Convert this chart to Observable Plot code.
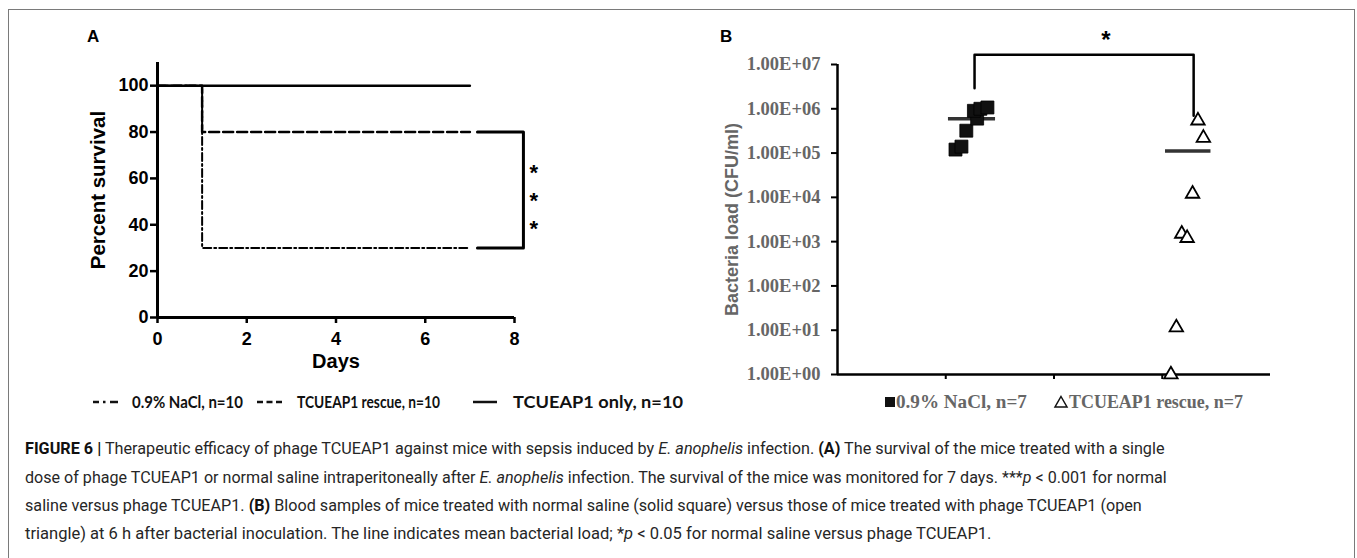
<!DOCTYPE html>
<html>
<head>
<meta charset="utf-8">
<script src="https://cdn.jsdelivr.net/npm/d3@7"></script>
<script src="https://cdn.jsdelivr.net/npm/@observablehq/plot@0.6"></script>
<style>
  body { margin: 0; background: #fff; }
  #root { position: relative; width: 1357px; height: 558px; overflow: hidden; background: #fff; }
  .frame { position: absolute; left: 8px; top: 9px; width: 1347px; height: 620px; border: 1.5px solid #7a7a7a; box-sizing: border-box; }
  #panelA { position: absolute; left: 0; top: 0; }
  #panelB { position: absolute; left: 600px; top: 0; }
  #overlay { position: absolute; left: 0; top: 0; pointer-events: none; }
</style>
</head>
<body>
<div id="root">
  <div class="frame"></div>
  <div id="panelA"></div>
  <div id="panelB"></div>
  <svg id="overlay" width="1357" height="558"></svg>
</div>
<script>
// ---------- Panel A data (Kaplan–Meier survival) ----------
const survivalSeries = ["0.9% NaCl, n=10", "TCUEAP1 rescue, n=10", "TCUEAP1 only, n=10"];
const survivalDays = [0, 1, 7];
const naclSurvival = [100, 30, 30];
const rescueSurvival = [100, 80, 80];
const onlyDays = [0, 7];
const onlySurvival = [100, 100];
const xTicksA = [0, 2, 4, 6, 8];
const yTicksA = [0, 20, 40, 60, 80, 100];
const bracketAX = [7.17, 8.2, 8.2, 7.17];
const bracketAY = [80, 80, 30, 30];
const starsAY = [65, 53, 41];
const starsAX = 8.43;

// ---------- Panel B data (bacterial load) ----------
const groupsB = ["0.9% NaCl, n=7", "TCUEAP1 rescue, n=7"];
const naclX = [1.09, 1.145, 1.19, 1.29, 1.26, 1.32, 1.385];
const naclLoad = [1.2e5, 1.4e5, 3.2e5, 6.0e5, 9.0e5, 1.0e6, 1.07e6];
const rescueX = [3.33, 3.38, 3.28, 3.18, 3.23, 3.13, 3.08];
const rescueLoad = [5.4e5, 2.2e5, 1.2e4, 1.5e3, 1.2e3, 11.5, 1];
const yTicksB = [1, 10, 100, 1e3, 1e4, 1e5, 1e6, 1e7];
const yTickLabelsB = ["1.00E+00", "1.00E+01", "1.00E+02", "1.00E+03", "1.00E+04", "1.00E+05", "1.00E+06", "1.00E+07"];
const xTicksB = [1, 2, 3];
const meanSpanNacl = [1.025, 1.46];
const meanSpanRescue = [3.03, 3.45];
const bracketBX = [1.266, 1.266, 3.29, 3.29];
const bracketBY = [2.9e6, 1.66e7, 1.66e7, 7e5];
const starBX = 2.48;
const starBY = 4.8e7;

// ---------- Panel A ----------
const rows = (xs, ys) => xs.map((d, i) => ({x: d, y: ys[i]}));
const plotStyle = {background: "transparent", overflow: "visible", maxWidth: "none", color: "black",
  fontFamily: "'Liberation Sans', Arial, sans-serif", fontSize: "18px", fontWeight: "bold"};

const plotA = Plot.plot({
  width: 680, height: 420,
  marginLeft: 157, marginRight: 166, marginTop: 62, marginBottom: 103,
  x: {domain: [0, 8]},
  y: {domain: [0, 110]},
  style: plotStyle,
  marks: [
    Plot.axisY(yTicksA, {tickSize: 7, tickPadding: 2, strokeWidth: 2.5, fontSize: 18, fontWeight: "bold", label: null}),
    Plot.axisX(xTicksA, {tickSize: 6, tickPadding: 9, strokeWidth: 2.5, fontSize: 18, fontWeight: "bold", label: null}),
    Plot.ruleX([0], {y1: 0, y2: 110, strokeWidth: 3}),
    Plot.ruleY([0], {x1: 0, x2: 8, strokeWidth: 3}),
    Plot.text(["Percent survival"], {text: d => d, frameAnchor: "left", textAnchor: "middle", dx: -59, rotate: -90, fontSize: 20.5, fontWeight: "bold"}),
    Plot.text(["Days"], {text: d => d, frameAnchor: "bottom", dy: 50, fontSize: 20, fontWeight: "bold"}),
    Plot.line(rows(survivalDays, rescueSurvival), {x: "x", y: "y", curve: "step-after", strokeWidth: 2.5, strokeDasharray: "10,4"}),
    Plot.line(rows(survivalDays, naclSurvival), {x: "x", y: "y", curve: "step-after", strokeWidth: 2, strokeDasharray: "8,3,2,3"}),
    Plot.line(rows(onlyDays, onlySurvival), {x: "x", y: "y", strokeWidth: 2.5}),
    Plot.line(rows(bracketAX, bracketAY), {x: "x", y: "y", strokeWidth: 3}),
    Plot.text(starsAY, {x: () => starsAX, y: d => d, text: () => "*", fontSize: 22, fontWeight: "bold", dy: 6})
  ]
});
document.getElementById("panelA").appendChild(plotA);

// ---------- Panel B ----------
const naclRows = rows(naclX, naclLoad);
const rescueRows = rows(rescueX, rescueLoad);
const naclMean = d3.mean(naclLoad);
const rescueMean = d3.mean(rescueLoad);

const plotB = Plot.plot({
  width: 720, height: 420,
  marginLeft: 237, marginRight: 50, marginTop: 64, marginBottom: 46,
  x: {domain: [0, 4]},
  y: {type: "log", domain: [1, 1e7]},
  style: plotStyle,
  marks: [
    Plot.axisY(yTicksB, {tickFormat: (d) => yTickLabelsB[yTicksB.indexOf(d)], tickSize: 6, tickPadding: 11, strokeWidth: 2,
      fontFamily: "'Liberation Serif', 'Times New Roman', serif", fontSize: 18.5, fontWeight: "bold", fill: "#666", stroke: "black", label: null}),
    Plot.axisX(xTicksB, {tickFormat: () => "", tickSize: 5, strokeWidth: 2, label: null}),
    Plot.ruleX([0], {y1: 1, y2: 1e7, strokeWidth: 2.5}),
    Plot.ruleY([1], {x1: 0, x2: 4, strokeWidth: 2.5}),
    Plot.text(["Bacteria load (CFU/ml)"], {text: d => d, frameAnchor: "left", textAnchor: "middle", dx: -105, rotate: -90, fontSize: 18, fontWeight: "bold", fill: "#666"}),
    Plot.ruleY([naclMean], {x1: meanSpanNacl[0], x2: meanSpanNacl[1], strokeWidth: 3.5, stroke: "#333"}),
    Plot.ruleY([rescueMean], {x1: meanSpanRescue[0], x2: meanSpanRescue[1], strokeWidth: 3.5, stroke: "#333"}),
    Plot.dot(naclRows, {x: "x", y: "y", symbol: "square", r: 7.3, fill: "#111", stroke: "#000", strokeWidth: 0.8}),
    Plot.dot(rescueRows, {x: "x", y: "y", symbol: "triangle", r: 5, fill: "white", stroke: "black", strokeWidth: 1.8}),
    Plot.line(rows(bracketBX, bracketBY), {x: "x", y: "y", strokeWidth: 2.5}),
    Plot.text([starBY], {x: () => starBX, y: d => d, text: () => "*", fontSize: 24, fontWeight: "bold", dy: 6})
  ]
});
document.getElementById("panelB").appendChild(plotB);

// ---------- Overlay: panel letters, legends, caption ----------
const ov = d3.select("#overlay");

// Fit a text element to a target width by scaling it horizontally (keeps tspans together).
function fitText(t, x, y, w) {
  t.attr("x", 0).attr("y", 0);
  const natural = t.node().getComputedTextLength();
  const sx = natural > 0 ? w / natural : 1;
  t.attr("transform", `translate(${x},${y}) scale(${sx},1)`);
}

ov.append("text").attr("x", 87).attr("y", 42).attr("font-family", "'Liberation Sans', Arial, sans-serif")
  .attr("font-weight", "bold").attr("font-size", 17).text("A");
ov.append("text").attr("x", 720).attr("y", 42).attr("font-family", "'Liberation Sans', Arial, sans-serif")
  .attr("font-weight", "bold").attr("font-size", 17).text("B");

// Legend A
const legA = [
  {label: survivalSeries[0], x1: 93, x2: 118, tx: 132, tw: 111, fs: 16.5, dash: "6,4,2.5,4.5,8"},
  {label: survivalSeries[1], x1: 257, x2: 282, tx: 297, tw: 143, fs: 16.5, dash: "6,3.5"},
  {label: survivalSeries[2], x1: 473, x2: 497, tx: 513, tw: 170, fs: 16.5, dash: null}
];
legA.forEach(d => {
  ov.append("line").attr("x1", d.x1).attr("x2", d.x2).attr("y1", 402).attr("y2", 402)
    .attr("stroke", "#111").attr("stroke-width", 2.5).attr("stroke-dasharray", d.dash);
  const t = ov.append("text").attr("font-family", "Lato, 'Open Sans', sans-serif")
    .attr("font-weight", "bold").attr("font-size", d.fs).attr("fill", "#111").text(d.label);
  fitText(t, d.tx, 402 + d.fs * 0.36, d.tw);
});

// Legend B
ov.append("rect").attr("x", 885).attr("y", 397).attr("width", 10).attr("height", 10).attr("fill", "#111");
const lb1 = ov.append("text").attr("font-family", "'Liberation Serif', 'Times New Roman', serif")
  .attr("font-weight", "bold").attr("font-size", 18).attr("fill", "#666").text(groupsB[0]);
fitText(lb1, 896, 408, 131);
ov.append("path").attr("d", "M1061,396.5 L1067,407 L1055,407 Z").attr("fill", "none").attr("stroke", "#111").attr("stroke-width", 1.5);
const lb2 = ov.append("text").attr("font-family", "'Liberation Serif', 'Times New Roman', serif")
  .attr("font-weight", "bold").attr("font-size", 18).attr("fill", "#666").text(groupsB[1]);
fitText(lb2, 1069, 408, 174);

// Caption
const captionLines = [
  {y: 454, w: 1140, parts: [["FIGURE 6 |", "b"], [" Therapeutic efficacy of phage TCUEAP1 against mice with sepsis induced by ", ""], ["E. anophelis", "i"], [" infection. ", ""], ["(A)", "b"], [" The survival of the mice treated with a single", ""]]},
  {y: 483, w: 1142, parts: [["dose of phage TCUEAP1 or normal saline intraperitoneally after ", ""], ["E. anophelis", "i"], [" infection. The survival of the mice was monitored for 7 days. ***", ""], ["p", "i"], [" < 0.001 for normal", ""]]},
  {y: 511, w: 1117, parts: [["saline versus phage TCUEAP1. ", ""], ["(B)", "b"], [" Blood samples of mice treated with normal saline (solid square) versus those of mice treated with phage TCUEAP1 (open", ""]]},
  {y: 539, w: 967, parts: [["triangle) at 6 h after bacterial inoculation. The line indicates mean bacterial load; *", ""], ["p", "i"], [" < 0.05 for normal saline versus phage TCUEAP1.", ""]]}
];
captionLines.forEach(line => {
  const t = ov.append("text")
    .attr("font-family", "Roboto, 'Liberation Sans', sans-serif").attr("font-size", 16.5).attr("font-weight", 400)
    .attr("fill", "#262626").style("white-space", "pre");
  line.parts.forEach(([s, f]) => {
    const ts = t.append("tspan").text(s);
    if (f === "b") ts.attr("font-weight", "bold").attr("fill", "#111");
    if (f === "i") ts.attr("font-style", "italic");
  });
  fitText(t, 25, line.y, line.w);
});
</script>
</body>
</html>
